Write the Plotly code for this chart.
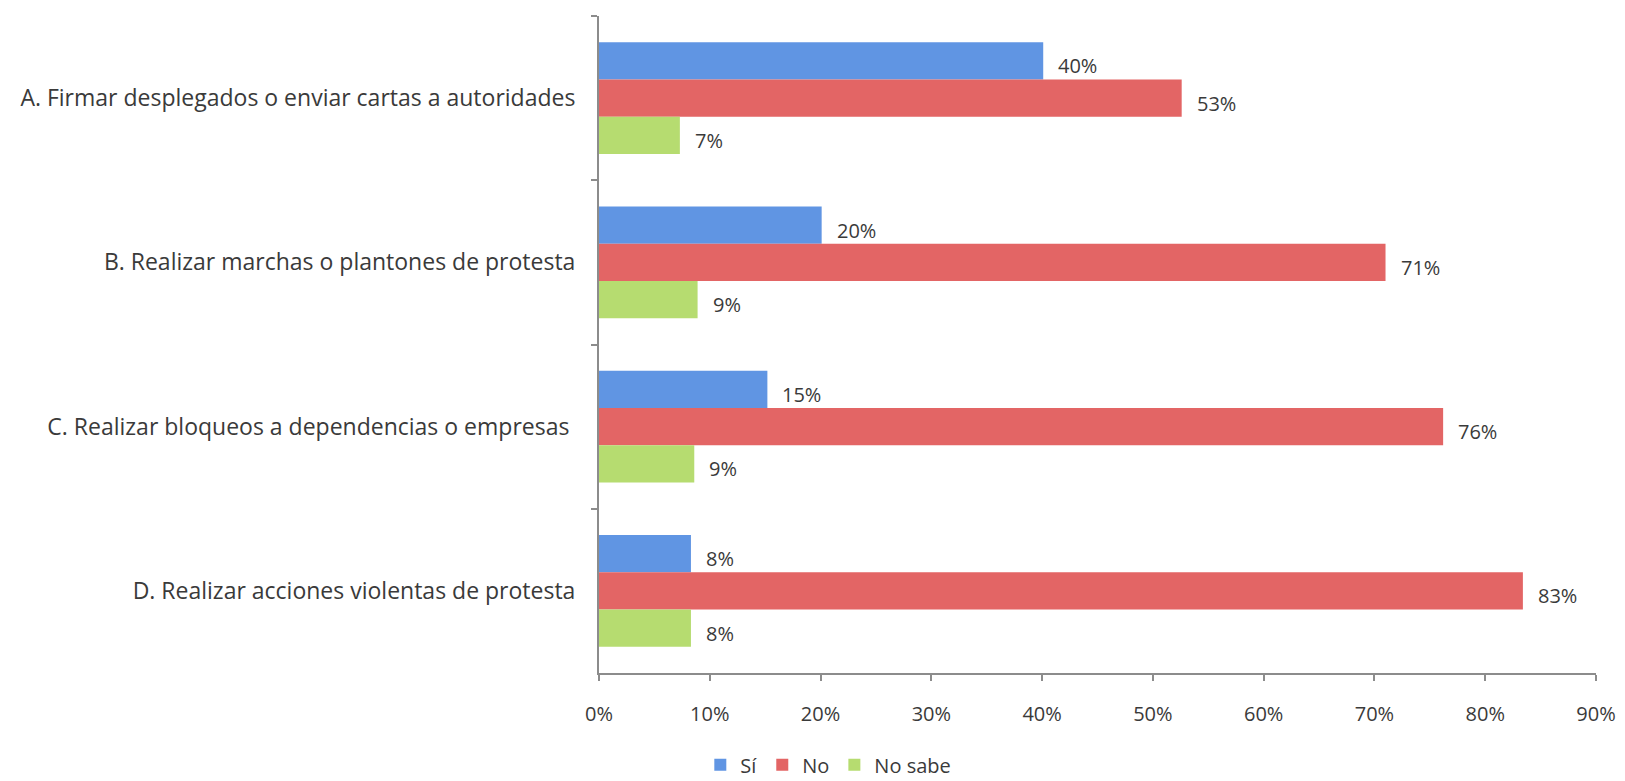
import plotly.graph_objects as go

categories = [
    "A. Firmar desplegados o enviar cartas a autoridades",
    "B. Realizar marchas o plantones de protesta",
    "C. Realizar bloqueos a dependencias o empresas ",
    "D. Realizar acciones violentas de protesta",
]
series_names = ["Sí", "No", "No sabe"]
si_values = [40.1, 20.1, 15.2, 8.3]
no_values = [52.6, 71.0, 76.2, 83.4]
nosabe_values = [7.3, 8.9, 8.6, 8.3]
x_ticks = [0, 10, 20, 30, 40, 50, 60, 70, 80, 90]

colors = ["#6095e3", "#e36565", "#b6dc70"]
W, H = 1625, 781
margin = dict(l=591, r=37, t=8, b=116)
bargap = 0.32
font_family = "Open Sans"
text_color = "#3a3a3a"

fig = go.Figure()
all_values = [si_values, no_values, nosabe_values]
for name, vals, col in zip(series_names, all_values, colors):
    fig.add_trace(go.Bar(
        y=categories, x=vals, name=name, orientation="h",
        marker=dict(color=col, line=dict(width=0)),
    ))

plot_h = H - margin["t"] - margin["b"]
group_px = plot_h / len(categories)
bar_px = group_px * (1 - bargap) / len(series_names)
for i, vals in enumerate(all_values):
    for cat, v in zip(categories, vals):
        fig.add_annotation(
            x=v, y=cat, xref="x", yref="y",
            text=f"{round(v):d}%", showarrow=False,
            xanchor="left", yanchor="middle",
            xshift=13, yshift=(1 - i) * bar_px - 5,
            font=dict(family=font_family, size=20, color=text_color),
        )

fig.update_layout(
    width=W, height=H,
    margin=margin,
    barmode="group", bargap=bargap, bargroupgap=0,
    plot_bgcolor="white", paper_bgcolor="white",
    font=dict(family=font_family, size=20, color=text_color),
    showlegend=True,
    legend=dict(orientation="h", x=0.23, xanchor="center",
                yref="container", y=0.031, yanchor="middle",
                traceorder="normal", font=dict(size=20), itemwidth=30),
)
fig.update_xaxes(
    range=[0, 90], tickvals=x_ticks, ticktext=[f"{t}%" for t in x_ticks],
    showgrid=False, zeroline=False,
    showline=True, linecolor="#8c8c8c", linewidth=2,
    ticks="outside", ticklen=6, tickcolor="#8c8c8c", tickwidth=2,
    ticklabelstandoff=16,
)
fig.update_yaxes(
    autorange="reversed", categoryorder="array", categoryarray=categories,
    showgrid=False, zeroline=False,
    showline=True, linecolor="#8c8c8c", linewidth=2,
    ticks="outside", ticklen=6, tickcolor="#8c8c8c", tickwidth=2,
    tickson="boundaries", ticklabelstandoff=17,
    tickfont=dict(size=23),
)

fig.write_html("out.html")
